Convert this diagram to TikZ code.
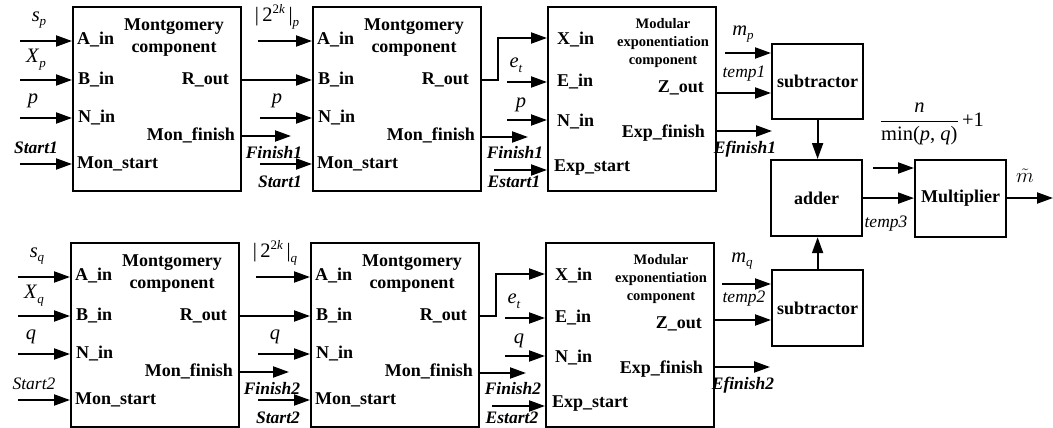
\documentclass[tikz,border=0pt]{standalone}
\usepackage{fontspec}
\setmainfont{Liberation Serif}
\usetikzlibrary{arrows.meta}
\newcommand\sbs[2]{\textit{#1}\raisebox{-0.5ex}{\fontsize{13}{13}\selectfont\textit{#2}}}
\newcommand\twok[1]{|\,2\raisebox{0.85ex}{\fontsize{13}{13}\selectfont 2\textit{k}}\,|\raisebox{-0.5ex}{\fontsize{13}{13}\selectfont\textit{#1}}}
\tikzset{
 box/.style={draw, line width=2.2pt, anchor=north west, minimum width=168pt, minimum height=184pt, inner sep=0pt},
 sbox/.style={draw, line width=2.2pt, anchor=north west, minimum width=91pt, minimum height=75pt, inner sep=0pt, font=\fontsize{18}{20}\selectfont\bfseries},
 arr/.style={line width=2pt, -{Triangle[length=16pt,width=11pt]}},
 port/.style={font=\fontsize{18}{22}\selectfont\bfseries, inner sep=0pt},
 small/.style={font=\fontsize{14.5}{18}\selectfont\bfseries, inner sep=0pt, align=center},
 lab/.style={font=\fontsize{17.5}{20}\selectfont\bfseries\itshape, inner sep=0pt},
 ilab/.style={font=\fontsize{17.5}{20}\selectfont\itshape, inner sep=0pt},
 mlab/.style={font=\fontsize{20.5}{22}\selectfont, inner sep=0pt},
}
% #1 xshift, #2 yshift, #3 letter, #4 number, #5 style of first start label
\newcommand\myrow[5]{%
\begin{scope}[shift={(#1,#2)}]
\node[box] (A#4) at (72,6) {};
\node[box] (B#4) at (312,6) {};
\node[box] (C#4) at (547,6) {};
% box A
\node[port,anchor=west] (Aa#4) at (77,40) {A\_in};
\node[port,align=center] (At#4) at (174,38) {Montgomery\\component};
\node[port,anchor=west] (Ab#4) at (78,80) {B\_in};
\node[port,anchor=east] (Ar#4) at (229,80) {R\_out};
\node[port,anchor=west] (An#4) at (78,118) {N\_in};
\node[port,anchor=east] (Af#4) at (235,135) {Mon\_finish};
\node[port,anchor=west] (As#4) at (77,164) {Mon\_start};
% inputs of A
\draw[arr] (20,41) -- (A#4.west |- 0,41);
\draw[arr] (20,80) -- (A#4.west |- 0,80);
\draw[arr] (20,118) -- (A#4.west |- 0,118);
\draw[arr] (20,164) -- (A#4.west |- 0,164);
\node[mlab] (ls#4) at (39,20) {\sbs{s}{#3}};
\node[mlab] (lx#4) at (36,60) {\sbs{X}{#3}};
\node[mlab] (lp#4) at (33,101) {\textit{#3}};
\node[#5] (lst#4) at (36,148) {Start#4};
% box B
\node[port,anchor=west] (Ba#4) at (317,40) {A\_in};
\node[port,align=center] (Bt#4) at (414,38) {Montgomery\\component};
\node[port,anchor=west] (Bb#4) at (318,80) {B\_in};
\node[port,anchor=east] (Br#4) at (469,80) {R\_out};
\node[port,anchor=west] (Bn#4) at (318,118) {N\_in};
\node[port,anchor=east] (Bf#4) at (475,135) {Mon\_finish};
\node[port,anchor=west] (Bs#4) at (317,164) {Mon\_start};
% A to B
\draw[arr] (A#4.east |- 0,80) -- (B#4.west |- 0,80);
\draw[arr] (258,41) -- (B#4.west |- 0,41);
\node[mlab] (l2k#4) at (277,17) {\twok{#3}};
\draw[arr] (260,118) -- (B#4.west |- 0,118);
\node[mlab] (lpb#4) at (277,101) {\textit{#3}};
\draw[arr] (A#4.east |- 0,136) -- (291,136);
\node[lab] (lfa#4) at (274,153) {Finish#4};
\draw[arr] (260,164) -- (B#4.west |- 0,164);
\node[lab] (lsb#4) at (280,182) {Start#4};
% box C
\node[port,anchor=west] (Cx#4) at (557,40) {X\_in};
\node[small] (Ct#4) at (663,43) {Modular\\exponentiation\\component};
\node[port,anchor=west] (Ce#4) at (557,82) {E\_in};
\node[port,anchor=east] (Cz#4) at (704,88) {Z\_out};
\node[port,anchor=west] (Cn#4) at (557,122) {N\_in};
\node[port,anchor=east] (Cf#4) at (705,133) {Exp\_finish};
\node[port,anchor=west] (Cs#4) at (554,168) {Exp\_start};
% B to C
\draw[arr] (B#4.east |- 0,80) -- (498,80) -- (498,38) -- (C#4.west |- 0,38);
\draw[arr] (507,82) -- (C#4.west |- 0,82);
\node[mlab] (let#4) at (516,65) {\sbs{e}{t}};
\draw[arr] (507,120) -- (C#4.west |- 0,120);
\node[mlab] (lpc#4) at (521,105) {\textit{#3}};
\draw[arr] (B#4.east |- 0,137) -- (528,137);
\node[lab] (lfb#4) at (515,153) {Finish#4};
\draw[arr] (494,170) -- (C#4.west |- 0,170);
\node[lab] (lec#4) at (514,182) {Estart#4};
% C outputs
\draw[arr] (C#4.east |- 0,131) -- (772,131);
\node[lab] (lef#4) at (745,149) {Efinish#4};
\end{scope}}

\begin{document}
\begin{tikzpicture}[x=1pt,y=-1pt]
\useasboundingbox (0,0) rectangle (1053,428);
\myrow{0}{0}{p}{1}{lab}
\myrow{-2}{236}{q}{2}{ilab}
% right part
\node[sbox] (S1) at (771,43) {subtractor};
\node[sbox, minimum height=76pt] (AD) at (770,159) {adder};
\node[sbox, minimum height=77pt] (MU) at (914,159) {Multiplier};
\node[sbox, minimum height=76pt] (S2) at (771,269) {subtractor};
% top subtractor
\draw[arr] (C1.east |- 0,93) -- (S1.west |- 0,93);
\draw[arr] (725,53) -- (S1.west |- 0,53);
\node[mlab] (lmp) at (743,34) {\sbs{m}{p}};
\node[ilab] (lt1) at (744,74) {temp1};
% bottom subtractor
\draw[arr] (C2.east |- 0,320) -- (S2.west |- 0,320);
\draw[arr] (722,284) -- (S2.west |- 0,284);
\node[mlab] (lmq) at (742,261) {\sbs{m}{q}};
\node[ilab] (lt2) at (744,299) {temp2};
% adder and multiplier
\draw[arr] (S1.south) -- (S1.south |- AD.north);
\draw[arr] (S2.north) -- (S2.north |- AD.south);
\draw[arr] (AD.east) -- (AD.east -| MU.west);
\node[ilab] (lt3) at (886,224) {temp3};
\draw[arr] (873,168) -- (MU.west |- 0,168);
\node[mlab] (lfrac) at (932,124) {$\displaystyle\frac{\mbox{\textit{n}}}{\mbox{min(\textit{p}, \textit{q})}}$\,+1};
\coordinate (mout) at (1053,198);
\draw[arr] (MU.east |- mout) -- (mout);
\node[mlab] (lm) at (1025,176) {$\tilde{m}$};
\end{tikzpicture}
\end{document}
